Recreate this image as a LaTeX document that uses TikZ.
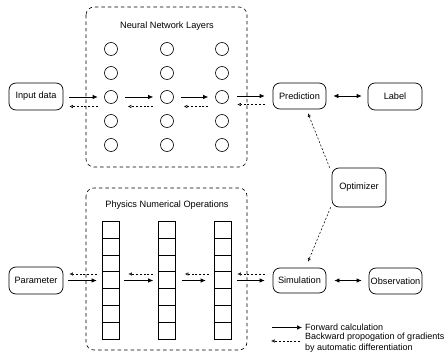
\documentclass[tikz,border=0pt]{standalone}
\usepackage{fontspec}
\setmainfont{Liberation Sans}
\usetikzlibrary{arrows.meta,calc}
\tikzset{
  box/.style={draw, line width=0.7pt, rounded corners=7pt, minimum width=54pt, minimum height=27pt, inner sep=1pt, font=\fontsize{9.2}{11}\selectfont},
  grp/.style={draw, dash pattern=on 3.5pt off 3pt, line width=0.6pt, rounded corners=8pt},
  neuron/.style={draw, circle, line width=0.6pt, minimum size=13pt, inner sep=0pt},
  cell/.style={draw, line width=0.6pt, minimum width=17pt, minimum height=16.9pt, inner sep=0pt},
  fwd/.style={-{Latex[length=5pt,width=4.5pt]}, line width=0.7pt},
  bwd/.style={-{Latex[open,length=3.5pt,width=3.5pt]}, line width=0.55pt, dash pattern=on 2pt off 1.8pt},
  both/.style={{Latex[length=5pt,width=4.5pt]}-{Latex[length=5pt,width=4.5pt]}, line width=0.7pt},
  ttl/.style={font=\fontsize{9.2}{11}\selectfont},
  lgd/.style={font=\fontsize{9}{11}\selectfont},
}
\begin{document}
\begin{tikzpicture}[x=1pt,y=-1pt]
\useasboundingbox (0,0) rectangle (446,352);
% groups
\draw[grp] (86,7) rectangle (247,167);
\draw[grp] (86,188) rectangle (247,350);
\node[ttl] (t1) at (167,26) {Neural Network Layers};
\node[ttl] (t2) at (167,205) {Physics Numerical Operations};
% neurons
\foreach \c/\x in {1/111,2/167,3/222}{
  \foreach \r/\y in {1/49,2/73,3/97,4/121,5/145}{
    \node[neuron] (n\c-\r) at (\x,\y) {};
  }
}
% cells
\foreach \c/\x in {1/110.5,2/167,3/222.5}{
  \foreach \r in {1,...,7}{
    \node[cell] (a\c-\r) at (\x,{221+16.9*(\r-0.5)}) {};
  }
}
% nodes
\node[box] (in) at (36,96.5) {Input data};
\node[box, minimum width=53pt, minimum height=26pt] (pred) at (299.5,96) {Prediction};
\node[box] (lab) at (395,96.5) {Label};
\node[box, minimum height=39pt] (opt) at (359,187.5) {Optimizer};
\node[box] (par) at (36,280.5) {Parameter};
\node[box, minimum width=53pt, minimum height=25pt] (sim) at (299.5,280.5) {Simulation};
\node[box, minimum width=53pt, minimum height=26pt, inner sep=0pt] (obs) at (395.5,281) {Observation};
% top arrows
\draw[fwd, shorten <=6pt, shorten >=6.5pt] (in.east |- n1-3) -- (n1-3.west);
\draw[bwd, shorten <=6.5pt, shorten >=6pt] ([yshift=-9.5pt]n1-3.west) -- ([yshift=-9.5pt]n1-3.west -| in.east);
\draw[fwd, shorten <=7pt, shorten >=7pt] (n1-3.east) -- (n2-3.west);
\draw[bwd, shorten <=7pt, shorten >=10pt] ([yshift=-9.5pt]n2-3.west) -- ([yshift=-9.5pt]n1-3.east);
\draw[fwd, shorten <=7pt, shorten >=7pt] (n2-3.east) -- (n3-3.west);
\draw[bwd, shorten <=7pt, shorten >=10pt] ([yshift=-9.5pt]n3-3.west) -- ([yshift=-9.5pt]n2-3.east);
\draw[fwd, shorten <=8.5pt, shorten >=8pt] (n3-3.east |- pred) -- (pred.west);
\draw[bwd, shorten <=8pt, shorten >=8.5pt] ([yshift=-8.5pt]pred.west) -- ([yshift=-8.5pt]pred.west -| n3-3.east);
\draw[both, shorten <=7pt, shorten >=6pt] (pred.east) -- (lab.west |- pred.east);
% bottom arrows
\draw[fwd, shorten <=5pt, shorten >=5pt] (par.east) -- (a1-4.west |- par.east);
\draw[bwd, shorten <=5pt, shorten >=6pt] ([yshift=6.5pt]a1-4.west |- par.east) -- ([yshift=6.5pt]par.east);
\draw[fwd, shorten <=5pt, shorten >=5pt] (a1-4.east |- par.east) -- (a2-4.west |- par.east);
\draw[bwd, shorten <=5pt, shorten >=9pt] ([yshift=6.5pt]a2-4.west |- par.east) -- ([yshift=6.5pt]a1-4.east |- par.east);
\draw[fwd, shorten <=6pt, shorten >=8pt] (a2-4.east |- par.east) -- (a3-4.west |- par.east);
\draw[bwd, shorten <=5pt, shorten >=9pt] ([yshift=6.5pt]a3-4.west |- par.east) -- ([yshift=6.5pt]a2-4.east |- par.east);
\draw[fwd, shorten <=6pt, shorten >=8pt] (a3-4.east |- sim.west) -- (sim.west);
\draw[bwd, shorten <=8pt, shorten >=6pt] ([yshift=6.5pt]sim.west) -- ([yshift=6.5pt]sim.west -| a3-4.east);
\draw[both, shorten <=8pt, shorten >=7pt] (sim.east) -- (obs.west |- sim.east);
% optimizer arrows
\draw[bwd] ([xshift=-2pt]opt.north west) -- ([xshift=8.5pt,yshift=-4pt]pred.south);
\draw[bwd] ([xshift=-1pt]opt.south west) -- ([xshift=8.5pt,yshift=6pt]sim.north);
% legend
\coordinate (l1a) at (272,327.5);
\coordinate (l1b) at (302,327.5);
\coordinate (l2a) at (300,341);
\coordinate (l2b) at (271,341);
\draw[fwd] (l1a) -- (l1b);
\draw[bwd] (l2a) -- (l2b);
\node[lgd, anchor=west, inner sep=0pt] (lt1) at (305,327) {Forward calculation};
\node[lgd, anchor=west, inner sep=0pt, align=left] (lt2) at (305,342.5) {Backward propogation of gradients\\by automatic differentiation};
\end{tikzpicture}
\end{document}
